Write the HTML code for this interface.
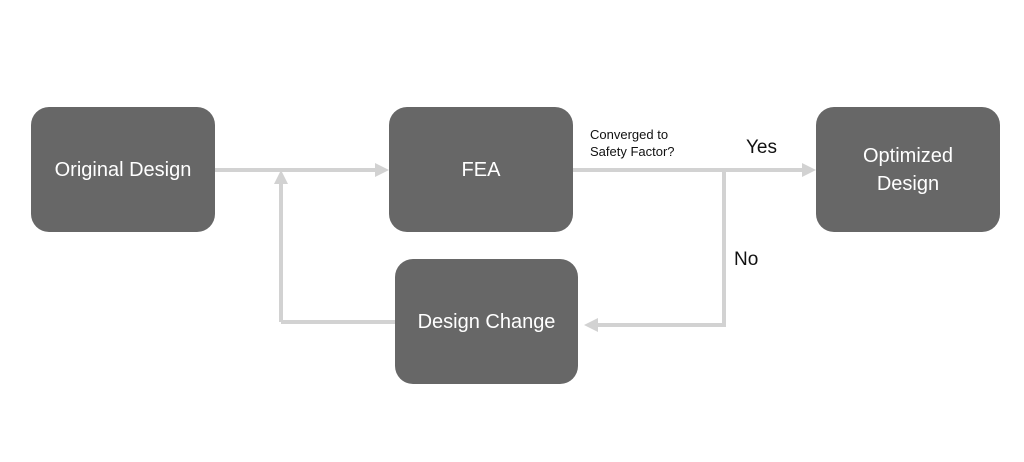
<!DOCTYPE html>
<html><head><style>
body{margin:0;background:#fff;width:1024px;height:462px;overflow:hidden;font-family:"Liberation Sans",sans-serif}
.b{position:absolute;background:#676767;border-radius:18px;color:#fff;font-size:20px;display:flex;align-items:center;justify-content:center;text-align:center;line-height:28px}
.t{position:absolute;color:#111}
</style></head><body>
<svg width="1024" height="462" style="position:absolute;left:0;top:0">
<g stroke="#d2d2d2" stroke-width="4" fill="none">
<path d="M215 170 H378"/>
<path d="M281 322 V182"/>
<path d="M281 322 H395"/>
<path d="M573 170 H805"/>
<path d="M724 170 V325 H596"/>
</g>
<g fill="#d2d2d2">
<polygon points="389,170 375,163 375,177"/>
<polygon points="281,170 274,184 288,184"/>
<polygon points="816,170 802,163 802,177"/>
<polygon points="584,325 598,318 598,332"/>
</g>
</svg>
<div class="b" style="left:31px;top:107px;width:184px;height:125px">Original Design</div>
<div class="b" style="left:389px;top:107px;width:184px;height:125px">FEA</div>
<div class="b" style="left:816px;top:107px;width:184px;height:125px">Optimized<br>Design</div>
<div class="b" style="left:395px;top:259px;width:183px;height:125px">Design Change</div>
<div class="t" style="left:590px;top:126px;font-size:13px;line-height:17px">Converged to<br>Safety Factor?</div>
<div class="t" style="left:746px;top:137px;font-size:19px">Yes</div>
<div class="t" style="left:734px;top:249px;font-size:19px">No</div>
</body></html>
